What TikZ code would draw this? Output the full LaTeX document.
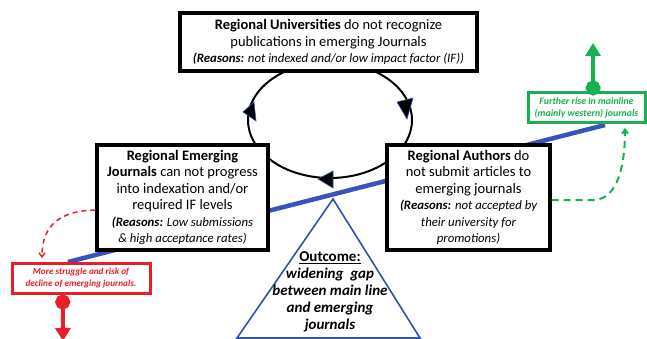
\documentclass[tikz,border=0pt]{standalone}
\usepackage{fontspec}
\setmainfont{Carlito}
\usetikzlibrary{arrows.meta,calc}
\definecolor{cblue}{RGB}{58,82,190}
\definecolor{tblue}{RGB}{50,80,170}
\definecolor{cgreen}{RGB}{24,176,80}
\definecolor{cred}{RGB}{232,30,40}
\begin{document}
\begin{tikzpicture}[x=1pt,y=-1pt,
  box/.style={draw=black, line width=3.2pt, fill=white, align=center, inner sep=0pt},
  mainfont/.style={font=\fontsize{14.5}{16.5}\selectfont},
  redbox/.style={draw=cred, line width=3pt, fill=white, align=center, inner sep=0pt, text=cred,
     font=\fontsize{9.2}{11.5}\selectfont\bfseries\itshape},
  greenbox/.style={draw=cgreen, line width=3pt, fill=white, align=center, inner sep=0pt, text=cgreen,
     font=\fontsize{9.8}{12}\selectfont\bfseries\itshape},
  cyclehead/.style={fill=black, draw=tblue, line width=0.6pt, line join=miter},
  reddash/.style={draw=cred, line width=1.5pt, dash pattern=on 5pt off 4pt, -{Straight Barb[length=4pt,width=6pt]}},
  greendash/.style={draw=cgreen, line width=2pt, dash pattern=on 7pt off 5pt, -{Straight Barb[length=4pt,width=6pt]}},
  bigarrow/.style={line width=4pt, {Circle[length=15pt]}-{Triangle[length=13pt,width=15pt]}},
]
\useasboundingbox (0,0) rectangle (647,339);

% blue line (behind boxes)
\coordinate (bl) at (68,262);
\coordinate (br) at (605,125);
\draw[cblue, line width=4.5pt] (bl) -- (br);

% cycle ellipse
\coordinate (cc) at (330,120);
\draw[line width=2pt] (cc) ellipse [x radius=82pt, y radius=58pt];

% outcome triangle
\coordinate (ta) at (333,199);
\coordinate (tl) at (237,338);
\coordinate (tr) at (420,338);
\draw[tblue, line width=1.6pt, line join=miter] (ta) -- (tl) -- (tr) -- cycle;
\node[align=center, font=\fontsize{15}{17}\selectfont\bfseries] (outcome) at (330,292)
  {\underline{Outcome:}\\ \itshape widening\ \ gap\\ \itshape between main line\\ \itshape and emerging\\ \itshape journals};

% boxes
\node[box, mainfont, minimum width=297pt, minimum height=58pt] (uni) at (328.5,42)
  {\textbf{Regional Universities} do not recognize\\ publications in emerging Journals\\
   {\fontsize{12.8}{15}\selectfont\itshape\textbf{(Reasons:} not indexed and/or low impact factor (IF))}};
\node[box, mainfont, minimum width=171pt, minimum height=105pt] (jour) at (182.5,197.5)
  {\textbf{Regional Emerging}\\ \textbf{Journals} can not progress\\ into indexation and/or\\ required IF levels\\
   {\fontsize{12.8}{16.5}\selectfont\itshape\textbf{(Reasons:} Low submissions}\\
   {\fontsize{12.8}{16}\selectfont\itshape \& high acceptance rates)}};
\node[box, mainfont, minimum width=163pt, minimum height=105pt] (auth) at (468.5,197.5)
  {\textbf{Regional Authors} do\\ not submit articles to\\ emerging journals\\
   {\fontsize{12.8}{16}\selectfont\itshape\textbf{(Reasons:} not accepted by}\\
   {\fontsize{12.8}{15}\selectfont\itshape their university for}\\
   {\fontsize{12.8}{15}\selectfont\itshape promotions)}};
\node[redbox, minimum width=138pt, minimum height=30pt] (red) at (81,278)
  {More struggle and risk of\\ decline of emerging journals.};
\node[greenbox, minimum width=117pt, minimum height=30pt] (green) at (586.5,108)
  {Further rise in mainline\\ (mainly western) journals};

% cycle arrowheads
\filldraw[cyclehead] (243,112) -- (254,102) -- (256,121) -- cycle;
\filldraw[cyclehead] (407,119) -- (397,102) -- (413,98) -- cycle;
\filldraw[cyclehead] (318,179) -- (333,171) -- (333,188) -- cycle;

% dashed feedback arrows
\coordinate (rdend) at (42,258);
\draw[reddash] (jour.west |- 0,210) .. controls (60,211) and (42,225) .. (rdend);
\coordinate (gdend) at (625,128);
\draw[greendash] (auth.east |- 0,200) -- (595,200) .. controls (618,198) and (625,165) .. (gdend);

% big outcome arrows
\coordinate (redtip) at (63,341);
\draw[cred, bigarrow] ($(red.south west)!0.37!(red.south east)$) -- (redtip);
\coordinate (greentip) at (593,43);
\draw[cgreen, bigarrow, shorten <=-4pt] ($(green.north west)!0.555!(green.north east)$) -- (greentip);
\end{tikzpicture}
\end{document}
